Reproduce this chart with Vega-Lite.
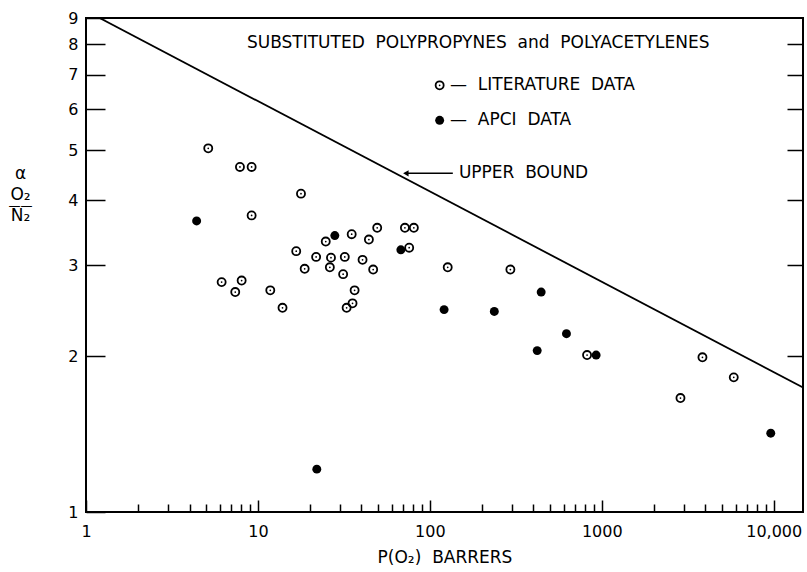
{
  "$schema": "https://vega.github.io/schema/vega-lite/v6.json",
  "width": 717,
  "height": 494,
  "autosize": {"type": "none"},
  "padding": {"left": 86, "top": 18, "right": 4, "bottom": 60},
  "background": "white",
  "config": {
    "font": "DejaVu Sans",
    "view": {"stroke": "black", "strokeWidth": 2},
    "axis": {
      "grid": false,
      "domain": false,
      "labelOverlap": false,
      "labelFlush": false,
      "labelBound": false,
      "labelColor": "black",
      "tickColor": "black",
      "titleColor": "black",
      "titleFontWeight": "normal"
    }
  },
  "datasets": {
    "bound": [
      {"p": 1.2, "alpha": 9.0},
      {"p": 14800, "alpha": 1.74}
    ],
    "literature": [
      {"p": 5.14, "alpha": 5.04}, {"p": 7.86, "alpha": 4.64}, {"p": 9.19, "alpha": 4.64},
      {"p": 17.8, "alpha": 4.12}, {"p": 9.19, "alpha": 3.74}, {"p": 35.1, "alpha": 3.44},
      {"p": 49.4, "alpha": 3.54}, {"p": 44.2, "alpha": 3.36}, {"p": 24.8, "alpha": 3.33},
      {"p": 71.6, "alpha": 3.54}, {"p": 80.7, "alpha": 3.54}, {"p": 75.8, "alpha": 3.24},
      {"p": 16.7, "alpha": 3.19}, {"p": 21.8, "alpha": 3.11}, {"p": 26.6, "alpha": 3.10},
      {"p": 32.0, "alpha": 3.11}, {"p": 40.6, "alpha": 3.07}, {"p": 18.7, "alpha": 2.95},
      {"p": 26.2, "alpha": 2.97}, {"p": 31.3, "alpha": 2.88}, {"p": 46.8, "alpha": 2.94},
      {"p": 127, "alpha": 2.97}, {"p": 6.15, "alpha": 2.78}, {"p": 8.04, "alpha": 2.80},
      {"p": 7.38, "alpha": 2.66}, {"p": 11.8, "alpha": 2.68}, {"p": 36.5, "alpha": 2.68},
      {"p": 13.9, "alpha": 2.48}, {"p": 32.8, "alpha": 2.48}, {"p": 35.5, "alpha": 2.53},
      {"p": 294, "alpha": 2.94}, {"p": 821, "alpha": 2.01}, {"p": 3850, "alpha": 1.99},
      {"p": 5855, "alpha": 1.82}, {"p": 2868, "alpha": 1.66}
    ],
    "apci": [
      {"p": 4.40, "alpha": 3.65}, {"p": 28.0, "alpha": 3.42}, {"p": 67.8, "alpha": 3.21},
      {"p": 121, "alpha": 2.46}, {"p": 237, "alpha": 2.44}, {"p": 22.0, "alpha": 1.21},
      {"p": 444, "alpha": 2.66}, {"p": 623, "alpha": 2.21}, {"p": 421, "alpha": 2.05},
      {"p": 927, "alpha": 2.01}, {"p": 9610, "alpha": 1.42}
    ],
    "legend_symbols": [
      {"p": 114, "alpha": 6.67, "kind": "literature"},
      {"p": 114, "alpha": 5.71, "kind": "apci"}
    ],
    "notes": [
      {"p": 8.63, "alpha": 8.04, "text": "SUBSTITUTED\u00a0\u00a0POLYPROPYNES\u00a0\u00a0and\u00a0\u00a0POLYACETYLENES"},
      {"p": 131, "alpha": 6.67, "text": "—\u00a0\u00a0LITERATURE\u00a0\u00a0DATA"},
      {"p": 131, "alpha": 5.71, "text": "—\u00a0\u00a0APCI\u00a0\u00a0DATA"},
      {"p": 147.5, "alpha": 4.51, "text": "UPPER\u00a0\u00a0BOUND"}
    ],
    "arrow": [
      {"p": 72.5, "p_end": 136, "alpha": 4.51}
    ]
  },
  "encoding": {
    "x": {"field": "p", "type": "quantitative", "scale": {"type": "log", "domain": [1, 14800], "nice": false}, "axis": null},
    "y": {"field": "alpha", "type": "quantitative", "scale": {"type": "log", "domain": [1, 9], "nice": false}, "axis": null}
  },
  "layer": [
    {
      "data": {"name": "bound"},
      "mark": {"type": "line", "stroke": "black", "strokeWidth": 1.8, "clip": true},
      "encoding": {
        "x": {
          "field": "p", "type": "quantitative",
          "scale": {"type": "log", "domain": [1, 14800], "nice": false},
          "axis": {
            "orient": "bottom",
            "values": [2, 3, 4, 5, 6, 7, 8, 9, 20, 30, 40, 50, 60, 70, 80, 90, 200, 300, 400, 500, 600, 700, 800, 900, 2000, 3000, 4000, 5000, 6000, 7000, 8000, 9000],
            "labels": false,
            "tickSize": -8,
            "tickWidth": 1.5,
            "title": null
          }
        },
        "y": {
          "field": "alpha", "type": "quantitative",
          "scale": {"type": "log", "domain": [1, 9], "nice": false},
          "axis": {
            "orient": "left",
            "values": [1, 2, 3, 4, 5, 6, 7, 8, 9],
            "format": "d",
            "tickSize": -19,
            "tickWidth": 1.5,
            "labelPadding": 27,
            "labelFontSize": 16,
            "title": ["α", "O₂", "N₂"],
            "titleAngle": 0,
            "titleAlign": "center",
            "titleBaseline": "middle",
            "titleX": -66,
            "titleY": 155,
            "titleLineHeight": 21,
            "titleFontSize": 17
          }
        }
      }
    },
    {
      "data": {"name": "literature"},
      "mark": {"type": "point", "shape": "circle", "filled": false, "stroke": "black", "strokeWidth": 1.8, "size": 65, "opacity": 1},
      "encoding": {
        "x": {
          "field": "p", "type": "quantitative",
          "scale": {"type": "log", "domain": [1, 14800], "nice": false},
          "axis": {
            "orient": "bottom",
            "values": [1, 10, 100, 1000, 10000],
            "labelExpr": "datum.value == 10000 ? '10,000' : format(datum.value, 'd')",
            "tickSize": -12,
            "tickWidth": 1.5,
            "labelPadding": 23,
            "labelFontSize": 16,
            "title": "P(O₂)\u00a0\u00a0BARRERS",
            "titleFontSize": 17,
            "titlePadding": 10
          }
        },
        "y": {
          "field": "alpha", "type": "quantitative",
          "scale": {"type": "log", "domain": [1, 9], "nice": false},
          "axis": {
            "orient": "right",
            "values": [2, 3, 4, 5, 6, 7, 8],
            "labels": false,
            "tickSize": -16,
            "tickWidth": 1.5,
            "title": null
          }
        }
      }
    },
    {
      "data": {"name": "literature"},
      "mark": {"type": "point", "shape": "circle", "filled": true, "fill": "black", "size": 3, "strokeWidth": 0, "opacity": 1},
      "encoding": {
        "y": {
          "field": "alpha", "type": "quantitative",
          "scale": {"type": "log", "domain": [1, 9], "nice": false},
          "axis": {
            "orient": "left",
            "labels": false,
            "ticks": false,
            "title": "——",
            "titleAngle": 0,
            "titleAlign": "center",
            "titleBaseline": "middle",
            "titleX": -66,
            "titleY": 187,
            "titleFontSize": 12
          }
        }
      }
    },
    {
      "data": {"name": "apci"},
      "mark": {"type": "point", "shape": "circle", "filled": true, "fill": "black", "size": 80, "strokeWidth": 0, "opacity": 1}
    },
    {
      "data": {"name": "legend_symbols"},
      "transform": [{"filter": "datum.kind == 'literature'"}],
      "mark": {"type": "point", "shape": "circle", "filled": false, "stroke": "black", "strokeWidth": 1.8, "size": 65, "opacity": 1}
    },
    {
      "data": {"name": "legend_symbols"},
      "transform": [{"filter": "datum.kind == 'literature'"}],
      "mark": {"type": "point", "shape": "circle", "filled": true, "fill": "black", "size": 3, "strokeWidth": 0, "opacity": 1}
    },
    {
      "data": {"name": "legend_symbols"},
      "transform": [{"filter": "datum.kind == 'apci'"}],
      "mark": {"type": "point", "shape": "circle", "filled": true, "fill": "black", "size": 80, "strokeWidth": 0, "opacity": 1}
    },
    {
      "data": {"name": "notes"},
      "mark": {"type": "text", "align": "left", "baseline": "middle", "fontSize": 17, "color": "black"},
      "encoding": {"text": {"field": "text"}}
    },
    {
      "data": {"name": "arrow"},
      "mark": {"type": "rule", "stroke": "black", "strokeWidth": 1.5},
      "encoding": {"x2": {"field": "p_end"}}
    },
    {
      "data": {"name": "arrow"},
      "mark": {"type": "point", "shape": "triangle-left", "filled": true, "fill": "black", "size": 40, "strokeWidth": 0, "opacity": 1}
    }
  ],
  "resolve": {"axis": {"x": "independent", "y": "independent"}}
}
